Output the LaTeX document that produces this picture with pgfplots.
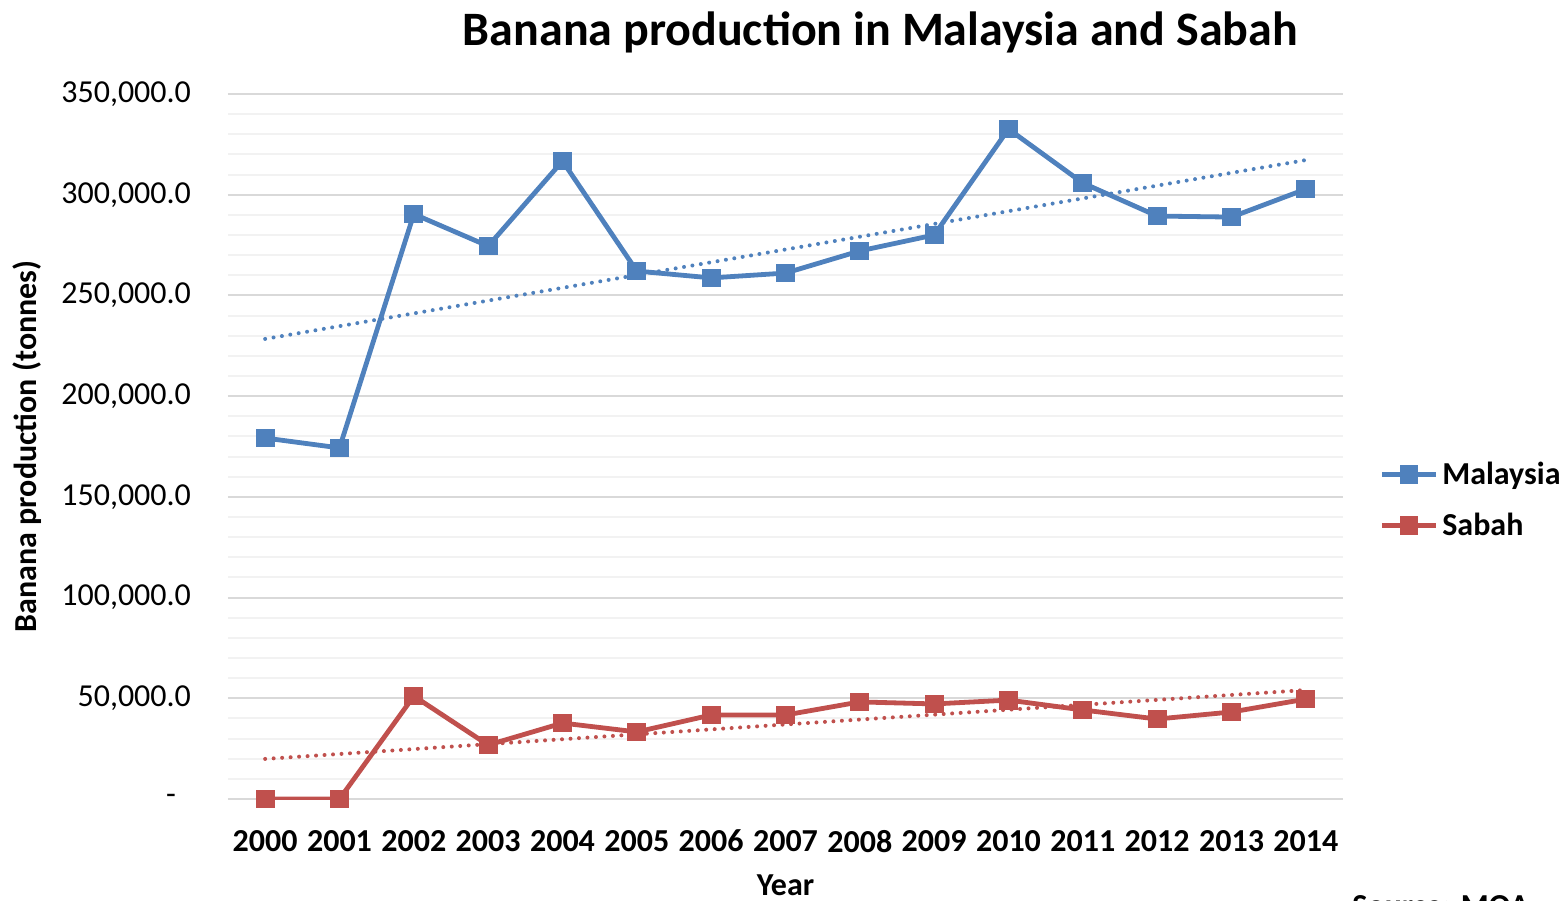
\documentclass[border=0pt]{standalone}
\usepackage{pgfplots}
\pgfplotsset{compat=1.18}
\usepackage{fontspec}
\setmainfont{Carlito}
\definecolor{mblue}{HTML}{4F81BD}
\definecolor{sred}{HTML}{C0504D}
\definecolor{majgrid}{HTML}{D9D9D9}
\definecolor{mingrid}{HTML}{F2F2F2}
\begin{document}
\begin{tikzpicture}[x=1pt,y=1pt]
\begin{axis}[
  at={(0pt,0pt)}, anchor=south west,
  scale only axis, width=557.5pt, height=352.5pt,
  xmin=-0.5, xmax=14.5, ymin=0, ymax=350000,
  scaled y ticks=false,
  axis line style={draw=none},
  tick style={draw=none},
  xtick={0,...,14},
  xticklabels={2000,2001,2002,2003,2004,2005,2006,2007,2008,2009,2010,2011,2012,2013,2014},
  x tick label style={font=\fontsize{16}{19}\selectfont\bfseries, yshift=-12pt},
  ytick={0,50000,...,350000},
  yticklabels={{-\rule{7.5pt}{0pt}},{50,000.0},{100,000.0},{150,000.0},{200,000.0},{250,000.0},{300,000.0},{350,000.0}},
  y tick label style={font=\fontsize{16}{19}\selectfont, xshift=-15pt},
  minor ytick={10000,20000,...,340000},
  ymajorgrids, yminorgrids,
  major grid style={majgrid, line width=1pt},
  minor grid style={mingrid, line width=1pt},
  title={\fontsize{24}{28}\selectfont\bfseries Banana production in Malaysia and Sabah},
  title style={at={(0.585,1)}, yshift=11pt},
  xlabel={\bfseries Year}, xlabel style={font=\fontsize{16}{19}\selectfont, yshift=-4.5pt},
  ylabel={\bfseries Banana production (tonnes)}, ylabel style={font=\fontsize{16}{19}\selectfont, yshift=3pt},
  legend style={at={(1.027,0.424)}, anchor=west, draw=none, fill=none,
    font=\fontsize{16}{19}\selectfont\bfseries, row sep=9pt},
  legend cell align=left,
  legend image code/.code={\draw[#1] (0pt,0pt) -- (27pt,0pt); \path[#1, only marks] plot coordinates {(13.5pt,0pt)};},
]
\addplot[mblue, line width=2.4pt, mark=square*, mark size=3.5pt, mark options={solid}] coordinates {
(0,179200) (1,174300) (2,290400) (3,274500) (4,316700) (5,262100) (6,258700) (7,261100)
(8,272100) (9,280000) (10,332600) (11,305800) (12,289400) (13,288900) (14,302800)};
\addlegendentry{Malaysia}
\addplot[sred, line width=2.4pt, mark=square*, mark size=3.5pt, mark options={solid}] coordinates {
(0,0) (1,0) (2,51100) (3,26800) (4,37700) (5,33300) (6,41700) (7,41700)
(8,48200) (9,47200) (10,49100) (11,44200) (12,39700) (13,43200) (14,49600)};
\addlegendentry{Sabah}
\addplot[mblue, line width=2pt, line cap=round, dash pattern=on 0pt off 4.25pt, forget plot] coordinates {(0,228400) (14,317200)};
\addplot[sred, line width=2pt, line cap=round, dash pattern=on 0pt off 4.25pt, forget plot] coordinates {(0,19900) (14,54100)};
\end{axis}
\node[anchor=north west, font=\fontsize{16}{19}\selectfont\bfseries, inner sep=0pt] at (562pt,-48pt) {Source: MOA};
\pgfresetboundingbox
\useasboundingbox (-114pt,-50.5pt) rectangle (669pt,399.5pt);
\end{tikzpicture}
\end{document}
